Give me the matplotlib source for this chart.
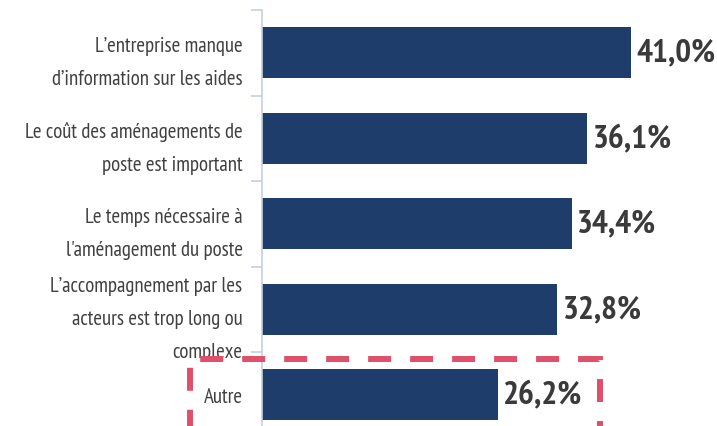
import matplotlib
matplotlib.use("Agg")
import matplotlib.pyplot as plt
from matplotlib.lines import Line2D

categories = [
    "L’entreprise manque\nd’information sur les aides",
    "Le coût des aménagements de\nposte est important",
    "Le temps nécessaire à\nl'aménagement du poste",
    "L’accompagnement par les\nacteurs est trop long ou\ncomplexe",
    "Autre",
]
values = [41.0, 36.1, 34.4, 32.8, 26.2]
value_labels = ["41,0%", "36,1%", "34,4%", "32,8%", "26,2%"]

W, H = 717, 427
plt.rcParams["font.family"] = ["PT Sans Narrow", "DejaVu Sans"]

fig = plt.figure(figsize=(W / 100, H / 100), dpi=100)
# axes placed in pixels: left 262, top 11, bottom beyond the figure
ax = fig.add_axes([262 / W, (H - 438.5) / H, 450 / W, 427.5 / H])

pos = list(range(len(categories)))
bars = ax.barh(pos, values, height=0.6, color="#1f3d6b")
ax.set_xlim(0, 50)
ax.set_ylim(4.5, -0.5)

for b, lab in zip(bars, value_labels):
    ax.annotate(lab, (b.get_width(), b.get_y() + b.get_height() / 2),
                xytext=(4, 0), textcoords="offset points",
                ha="left", va="center", fontsize=24, fontweight="bold",
                color="#3a3a3a")

ax.set_yticks(pos)
ax.set_yticklabels(categories, fontsize=15, color="#404040", linespacing=1.95)
ax.set_yticks([p - 0.5 for p in pos] + [4.5], minor=True)
ax.tick_params(axis="y", which="major", length=0, pad=14)
ax.tick_params(axis="y", which="minor", length=8, width=1.2, color="#c5d0e3")
ax.set_xticks([])
for s in ["top", "right", "bottom"]:
    ax.spines[s].set_visible(False)
ax.spines["left"].set_color("#c5d0e3")
ax.spines["left"].set_linewidth(1.2)

# dashed highlight box round "Autre" (figure pixels, y from top)
px = [600, 600, 190, 190]
py = [440, 360, 360, 440]
lw = 4.3
box = Line2D([x / W for x in px], [(H - y) / H for y in py],
             transform=fig.transFigure, color="#e0506a", linewidth=lw,
             linestyle=(2.85, (3.85, 3.18)), solid_joinstyle="miter",
             dash_joinstyle="miter", dash_capstyle="butt", clip_on=False)
fig.add_artist(box)

fig.savefig("out.png", dpi=100)
